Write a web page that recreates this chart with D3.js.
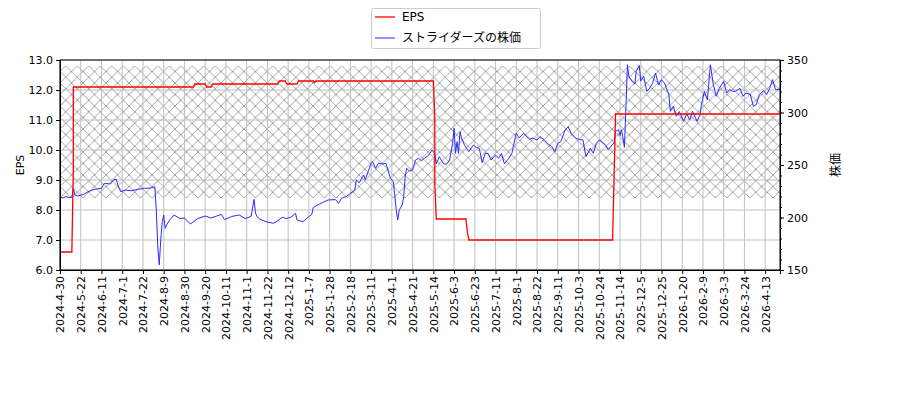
<!DOCTYPE html>
<html>
<head>
<meta charset="utf-8">
<title>EPS と株価</title>
<script src="https://d3js.org/d3.v7.min.js"></script>
<style>
  body { margin: 0; background: #fff; }
  text { font-family: 'DejaVu Sans', 'Noto Sans CJK JP', sans-serif; }
</style>
</head>
<body>
<svg width="900" height="400"></svg>
<script>
// x軸: 取引日インデックス (0..486)、14日ごとにラベル
var tickLabels = ["2024-4-30","2024-5-22","2024-6-11","2024-7-1","2024-7-22","2024-8-9",
  "2024-8-30","2024-9-20","2024-10-11","2024-11-1","2024-11-22","2024-12-12","2025-1-7",
  "2025-1-28","2025-2-18","2025-3-11","2025-4-1","2025-4-21","2025-5-14","2025-6-3",
  "2025-6-23","2025-7-11","2025-8-1","2025-8-22","2025-9-11","2025-10-3","2025-10-24",
  "2025-11-14","2025-12-5","2025-12-25","2026-1-20","2026-2-9","2026-3-3","2026-3-24","2026-4-13"];
var tickStep = 14;
var lastIndex = 486;

// EPS (左軸)
var epsIdx = [0, 8, 9, 9, 90, 91, 98, 99, 102, 103, 147, 148, 152, 153, 160, 161, 171, 172, 173,
  252, 253, 253, 254, 274, 275, 276, 373, 374, 375, 486];
var epsVal = [6.6, 6.6, 9.35, 12.1, 12.1, 12.2, 12.2, 12.1, 12.1, 12.2, 12.2, 12.3, 12.3, 12.2, 12.2, 12.3, 12.3, 12.25, 12.3,
  12.3, 11.1, 8.85, 7.7, 7.7, 7.25, 7.0, 7.0, 9.1, 11.2, 11.2];

// 株価 (右軸)
var priceIdx = [0, 2, 4, 6, 8, 9, 10, 12, 16, 19, 23, 28, 30, 34, 36, 38, 39, 41, 44, 48, 53, 57, 61, 64,
  65, 66, 67, 68, 69, 70, 71, 72, 74, 77, 81, 84, 88, 93, 98, 102, 109, 111, 116, 121, 125, 129, 131, 132,
  133, 135, 139, 144, 146, 150, 153, 156, 159, 160, 164, 168, 170, 171, 174, 177, 181, 186, 188, 190, 193,
  196, 199, 200, 202, 205, 206, 208, 210, 211, 213, 215, 218, 220, 223, 225, 227, 228, 229, 231, 232, 233,
  234, 236, 238, 240, 242, 244, 246, 249, 251, 253, 254, 256, 259, 261,
  263, 265, 266, 267, 268, 269, 270, 271, 273, 276, 279, 281, 283, 285, 287, 289, 291, 294, 296, 298, 300,
  303, 305, 306, 308, 310, 313, 315, 317, 319, 322, 324, 327, 329, 332, 334, 336, 338, 341, 343, 345, 348,
  351, 353, 355, 358, 360, 362, 364,
  368, 370, 372, 374, 375, 377, 378, 379, 380, 381, 382, 383, 384, 386, 388, 389, 391, 392, 394, 396, 398,
  400, 402, 404, 406, 408, 411, 412, 414, 416, 418, 421, 423, 425, 427, 430, 432, 433, 435, 437, 439, 441,
  443, 445, 448, 450, 452, 454, 456, 459, 461, 463, 466, 468, 470, 472, 475, 477, 479, 481, 483, 486];
var priceVal = [219.5, 218.5, 220, 219, 219.5, 227.8, 221.4, 220.5, 222, 224.6, 226.8, 227.8, 232.5, 231.9, 235.7, 236.3, 231, 224.6, 226.2, 225.5, 226.8, 227.8, 228, 229.4,
  207, 172, 154.8, 178.6, 196, 202.4, 189.7, 192.9, 197.6, 202.4, 199, 199.5, 193.8, 199, 201.4, 199.5, 203, 198, 201, 202.4, 199, 201, 217.3, 204,
  200.8, 198.3, 196, 194.5, 196, 200.2, 199, 200.5, 204, 197.6, 196, 200.8, 203, 209.7, 211.9, 214.1, 216.7, 217, 213.5, 218.3, 219.8,
  223, 226.2, 235.7, 233, 240.5, 236, 243.6, 251.6, 253.2, 246.9, 251.6, 251, 251.6, 237.3, 234.1, 207.1, 197.6, 207, 211.9, 219.8, 238.9,
  246.9, 244, 245.2, 254.8, 256.4, 254, 256.4, 259.5, 264.3, 261, 251, 257.9, 251, 251,
  254.8, 270.6, 285, 261.1, 272.2, 261, 281.7, 276, 269, 262.7, 269, 266.8, 265.9, 252.2, 261, 261, 254.8, 259.5, 256.4, 261, 251,
  256.4, 261, 267.5, 280.2, 275.7, 280.2, 277, 274.5, 275.7, 273.8, 277, 273.8, 270.6, 267.5, 262.7, 270.6, 272.2, 283.3, 286.5, 280.2, 275.7,
  274, 274, 257.9, 265.9, 261.1, 270.6, 273.8,
  269.4, 264.6, 268, 271, 282, 283.6, 278, 283.6, 275.7, 266.8, 304.3, 345.5, 334.5, 329.7, 327.1, 339.2, 344.9, 330, 334.5, 320.2, 323,
  328, 337.6, 326, 331.3, 328, 317, 301.1, 305.9, 296.4, 301, 291.6, 299, 293, 301.1, 291.6, 298, 307.5, 320.2, 312, 345.5, 326.5,
  315.4, 323, 329.7, 318.6, 321.8, 320.2, 320.2, 323, 315.4, 318.6, 317, 305.9, 307.5, 317, 320.8, 317, 323, 331.3, 321.8, 321.8];

// ハッチ帯 (左軸の値)
var bandLow = 8.4, bandHigh = 12.8;

var epsTicks = [6, 7, 8, 9, 10, 11, 12, 13];
var priceTicks = [150, 200, 250, 300, 350];

var svg = d3.select("svg"),
    pL = 60, pR = 780, pT = 60, pB = 270;

var x = d3.scaleLinear().domain([0, lastIndex]).range([pL, pR]);
var yL = d3.scaleLinear().domain([6, 13]).range([pB, pT]);
var yR = d3.scaleLinear().domain([150, 350]).range([pB, pT]);

var defs = svg.append("defs");
var hs = 11.5;
var pat = defs.append("pattern")
    .attr("id", "hatch")
    .attr("patternUnits", "userSpaceOnUse")
    .attr("x", pL).attr("y", yL(bandLow))
    .attr("width", hs).attr("height", hs);
pat.append("path")
    .attr("d", "M-1,-1L" + (hs + 1) + "," + (hs + 1) + "M-1," + (hs + 1) + "L" + (hs + 1) + ",-1")
    .attr("stroke", "#9a9a9a")
    .attr("stroke-width", 0.9)
    .attr("fill", "none");
defs.append("clipPath").attr("id", "plotclip")
  .append("rect")
    .attr("x", pL).attr("y", pT)
    .attr("width", pR - pL).attr("height", pB - pT);

// ハッチ帯
svg.append("rect")
    .attr("x", pL)
    .attr("y", yL(bandHigh))
    .attr("width", pR - pL)
    .attr("height", yL(bandLow) - yL(bandHigh))
    .attr("fill", "url(#hatch)");

// グリッド
var xTickIdx = tickLabels.map(function(d, i) { return i * tickStep; });
svg.append("g").selectAll("line").data(xTickIdx).enter().append("line")
    .attr("x1", function(d) { return x(d); }).attr("x2", function(d) { return x(d); })
    .attr("y1", pT).attr("y2", pB)
    .attr("stroke", "#c0c0c0").attr("stroke-width", 1);
svg.append("g").selectAll("line").data(epsTicks).enter().append("line")
    .attr("x1", pL).attr("x2", pR)
    .attr("y1", function(d) { return yL(d); }).attr("y2", function(d) { return yL(d); })
    .attr("stroke", "#c0c0c0").attr("stroke-width", 1);

// 線
var plot = svg.append("g").attr("clip-path", "url(#plotclip)");
plot.append("path")
    .datum(priceIdx.map(function(d, i) { return [d, priceVal[i]]; }))
    .attr("fill", "none")
    .attr("stroke", "#2b2bff")
    .attr("stroke-width", 1)
    .attr("d", d3.line().x(function(d) { return x(d[0]); }).y(function(d) { return yR(d[1]); }));
plot.append("path")
    .datum(epsIdx.map(function(d, i) { return [d, epsVal[i]]; }))
    .attr("fill", "none")
    .attr("stroke", "#ff0000")
    .attr("stroke-width", 1.3)
    .attr("d", d3.line().x(function(d) { return x(d[0]); }).y(function(d) { return yL(d[1]); }));

// 軸
var xAxis = svg.append("g")
    .attr("transform", "translate(0," + pB + ")")
    .call(d3.axisBottom(x).tickValues(xTickIdx).tickSize(4)
      .tickFormat(function(d, i) { return tickLabels[i]; }));
xAxis.selectAll("text")
    .attr("transform", "rotate(-90)")
    .attr("text-anchor", "end")
    .attr("x", -6).attr("y", 0).attr("dy", "0.35em");

var yAxisL = svg.append("g")
    .attr("transform", "translate(" + pL + ",0)")
    .call(d3.axisLeft(yL).tickValues(epsTicks).tickSize(4).tickFormat(d3.format(".1f")));

var yAxisRminor = svg.append("g")
    .attr("transform", "translate(" + pR + ",0)")
    .call(d3.axisRight(yR).tickValues(d3.range(150, 351, 10)).tickSize(2).tickFormat(""));
yAxisRminor.select(".domain").remove();
var yAxisR = svg.append("g")
    .attr("transform", "translate(" + pR + ",0)")
    .call(d3.axisRight(yR).tickValues(priceTicks).tickSize(4));

[xAxis, yAxisL, yAxisR].forEach(function(a) {
  a.selectAll("text").attr("font-size", 11).attr("fill", "#000")
   .style("font-family", "'DejaVu Sans', sans-serif");
  a.select(".domain").attr("stroke", "#000");
});

// 枠
svg.append("rect")
    .attr("x", pL).attr("y", pT)
    .attr("width", pR - pL).attr("height", pB - pT)
    .attr("fill", "none").attr("stroke", "#000").attr("stroke-width", 1);

// 軸ラベル
svg.append("text")
    .attr("transform", "translate(24," + ((pT + pB) / 2) + ") rotate(-90)")
    .attr("text-anchor", "middle")
    .attr("font-size", 11)
    .text("EPS");
svg.append("text")
    .attr("transform", "translate(840," + ((pT + pB) / 2) + ") rotate(-90)")
    .attr("text-anchor", "middle")
    .attr("font-size", 12)
    .text("株価");

// 凡例
var legend = svg.append("g").attr("transform", "translate(371,8)");
legend.append("rect")
    .attr("x", 0.5).attr("y", 0.5).attr("width", 169).attr("height", 40)
    .attr("rx", 2)
    .attr("fill", "#fff").attr("stroke", "#cccccc");
var items = [["EPS", "#ff0000", 1.3], ["ストライダーズの株価", "#2b2bff", 1]];
items.forEach(function(it, i) {
  var yy = 9 + i * 21;
  legend.append("line")
    .attr("x1", 4).attr("x2", 24).attr("y1", yy).attr("y2", yy)
    .attr("stroke", it[1]).attr("stroke-width", it[2]);
  legend.append("text")
    .attr("x", 31).attr("y", yy).attr("dy", "0.35em")
    .attr("font-size", 12)
    .text(it[0]);
});
</script>
</body>
</html>
